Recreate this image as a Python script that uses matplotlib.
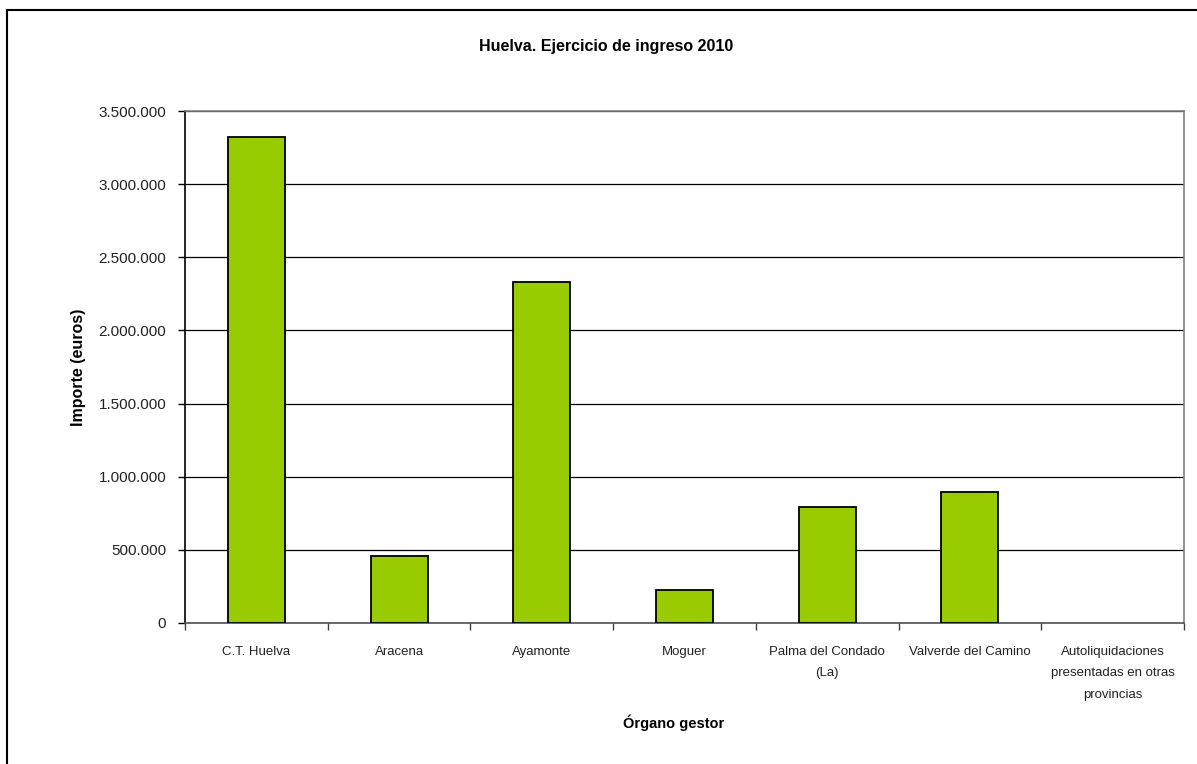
import numpy as np
import matplotlib
matplotlib.use("Agg")
import matplotlib.pyplot as plt
from matplotlib.patches import Rectangle
from matplotlib.ticker import FuncFormatter, FixedLocator

plt.rcParams['font.family'] = ['Liberation Sans', 'DejaVu Sans']

# data
categories = [
    "C.T. Huelva",
    "Aracena",
    "Ayamonte",
    "Moguer",
    "Palma del Condado\n(La)",
    "Valverde del Camino",
    "Autoliquidaciones\npresentadas en otras\nprovincias",
]
importes = [3322000, 458000, 2331000, 226000, 793000, 895000, 0]

title = "Huelva. Ejercicio de ingreso 2010"
y_ticks = [0, 500000, 1000000, 1500000, 2000000, 2500000, 3000000, 3500000]

W, H = 1197, 764
fig = plt.figure(figsize=(W / 100, H / 100), dpi=100)
ax = fig.add_axes([185 / W, 1 - 623 / H, (1184 - 185) / W, (623 - 111) / H])

x = np.arange(len(categories))
edges = ["black" if v > 0 else "none" for v in importes]
ax.bar(x, importes, width=0.4, color="#99CC00", edgecolor=edges, linewidth=1.3, zorder=3)

ax.set_xlim(-0.5, len(categories) - 0.5)
ax.set_ylim(0, 3500000)
ax.set_yticks(y_ticks)
ax.yaxis.set_major_formatter(FuncFormatter(lambda v, p: f"{int(v):,}".replace(",", ".")))
ax.yaxis.grid(True, color="black", linewidth=0.9, zorder=0)

# category labels centred, tick marks on the category boundaries
ax.set_xticks(x)
ax.set_xticklabels(categories, fontsize=9.5, linespacing=2.05, va="top", color="#222222")
ax.tick_params(axis="x", which="major", length=0, pad=16.5)
ax.xaxis.set_minor_locator(FixedLocator(np.arange(-0.5, len(categories), 1.0)))
ax.tick_params(axis="x", which="minor", length=5, width=1, color="#404040")
ax.tick_params(axis="y", length=5, width=1, pad=8.5, labelsize=11, labelcolor="#222222")

ax.spines["left"].set_color("black")
ax.spines["bottom"].set_color("#505050")
ax.spines["top"].set_color("#808080")
ax.spines["right"].set_color("#808080")
for s in ax.spines.values():
    s.set_linewidth(1.2)

fig.text(606 / W, 1 - 47 / H, title, ha="center", va="center", fontsize=11.5, fontweight="bold")
fig.text(674 / W, 1 - 723 / H, "Órgano gestor", ha="center", va="center", fontsize=10.5, fontweight="bold")
fig.text(79 / W, 1 - 367 / H, "Importe (euros)", ha="center", va="center", rotation=90,
         fontsize=11.5, fontweight="bold")

# outer chart border (right and bottom fall outside the picture)
fig.patches.append(Rectangle((7 / W, -0.1), 2, 1 - 10 / H + 0.1, transform=fig.transFigure,
                             fill=False, edgecolor="black", linewidth=1.5))

fig.savefig("out.png", dpi=100)
